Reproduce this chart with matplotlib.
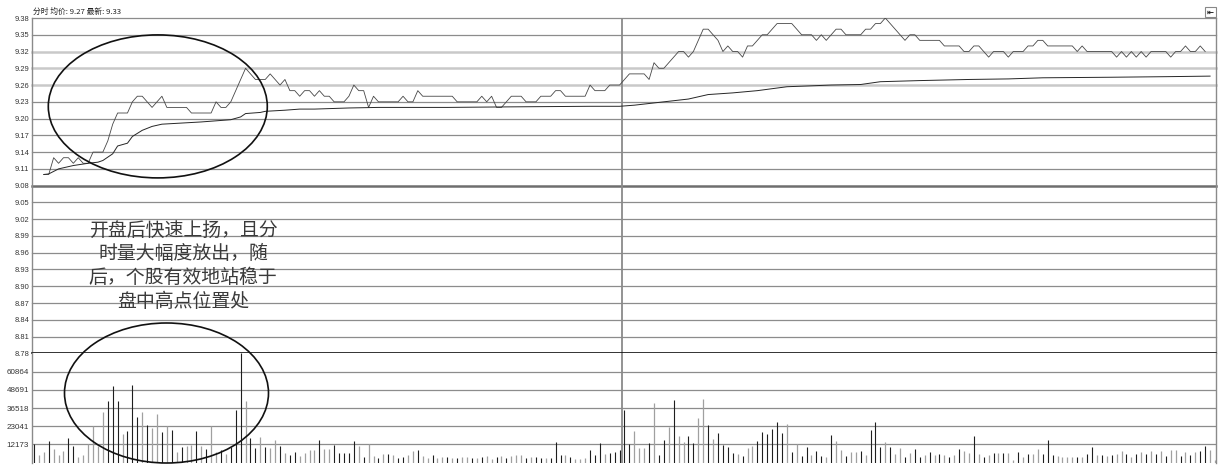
import numpy as np
import matplotlib
matplotlib.use("Agg")
import matplotlib.pyplot as plt
from matplotlib.patches import Ellipse, Rectangle

# ---- data ----------------------------------------------------------------
nan = np.nan

# minute price (index 0 = 9:30, 240 = 15:00)
price = [
    nan, nan,
    9.10, 9.10, 9.13, 9.12, 9.13, 9.13, 9.12, 9.13, 9.12, 9.12,
    9.14, 9.14, 9.14, 9.16, 9.19, 9.21, 9.21, 9.21, 9.23, 9.24,
    9.24, 9.23, 9.22, 9.23, 9.24, 9.22, 9.22, 9.22, 9.22, 9.22,
    9.21, 9.21, 9.21, 9.21, 9.21, 9.23, 9.22, 9.22, 9.23, 9.25,
    9.27, 9.29, 9.28, 9.27, 9.27, 9.27, 9.28, 9.27, 9.26, 9.27,
    9.25, 9.25, 9.24, 9.25, 9.25, 9.24, 9.25, 9.24, 9.24, 9.23,
    9.23, 9.23, 9.24, 9.26, 9.25, 9.25, 9.22, 9.24, 9.23, 9.23,
    9.23, 9.23, 9.23, 9.24, 9.23, 9.23, 9.25, 9.24, 9.24, 9.24,
    9.24, 9.24, 9.24, 9.24, 9.23, 9.23, 9.23, 9.23, 9.23, 9.24,
    9.23, 9.24, 9.22, 9.22, 9.23, 9.24, 9.24, 9.24, 9.23, 9.23,
    9.23, 9.24, 9.24, 9.24, 9.25, 9.25, 9.24, 9.24, 9.24, 9.24,
    9.24, 9.26, 9.25, 9.25, 9.25, 9.26, 9.26, 9.26, 9.27, 9.28,
    9.28, 9.28, 9.28, 9.27, 9.30, 9.29, 9.29, 9.30, 9.31, 9.32,
    9.32, 9.31, 9.32, 9.34, 9.36, 9.36, 9.35, 9.34, 9.32, 9.33,
    9.32, 9.32, 9.31, 9.33, 9.33, 9.34, 9.35, 9.35, 9.36, 9.37,
    9.37, 9.37, 9.37, 9.36, 9.35, 9.35, 9.35, 9.34, 9.35, 9.34,
    9.35, 9.36, 9.36, 9.35, 9.35, 9.35, 9.35, 9.36, 9.36, 9.37,
    9.37, 9.38, 9.37, 9.36, 9.35, 9.34, 9.35, 9.35, 9.34, 9.34,
    9.34, 9.34, 9.34, 9.33, 9.33, 9.33, 9.33, 9.32, 9.32, 9.33,
    9.33, 9.32, 9.31, 9.32, 9.32, 9.32, 9.31, 9.32, 9.32, 9.32,
    9.33, 9.33, 9.34, 9.34, 9.33, 9.33, 9.33, 9.33, 9.33, 9.33,
    9.32, 9.33, 9.32, 9.32, 9.32, 9.32, 9.32, 9.32, 9.31, 9.32,
    9.31, 9.32, 9.31, 9.32, 9.31, 9.32, 9.32, 9.32, 9.32, 9.31,
    9.32, 9.32, 9.33, 9.32, 9.32, 9.33, 9.32, nan, nan,
]

# average price line, read at its bends
avg_idx = [2, 3, 5, 8, 11, 13, 14, 16, 17, 19, 20, 22, 24, 26, 30, 34, 37,
           40, 42, 43, 46, 47, 51, 54, 57, 64, 70, 84, 97, 113, 119, 122,
           128, 133, 137, 142, 147, 153, 162, 168, 172, 180, 190, 198, 205,
           219, 230, 239]
avg_val = [9.100, 9.101, 9.110, 9.116, 9.120, 9.122, 9.125, 9.137, 9.151,
           9.156, 9.168, 9.179, 9.186, 9.190, 9.192, 9.194, 9.196, 9.198,
           9.203, 9.209, 9.211, 9.213, 9.215, 9.217, 9.217, 9.219, 9.220,
           9.220, 9.221, 9.222, 9.222, 9.224, 9.230, 9.235, 9.243, 9.246,
           9.250, 9.257, 9.260, 9.261, 9.266, 9.268, 9.270, 9.271, 9.273,
           9.274, 9.275, 9.276]

volume = [
    12500, 5200, 6900, 14500, 9200, 5200, 7800, 16300, 11200, 3600,
    5200, 12500, 24500, 11000, 33700, 41500, 51300, 41500, 19000, 21400,
    51800, 30800, 34100, 25200, 23000, 32400, 20300, 24500, 21900, 7400,
    10700, 11200, 11800, 21200, 11200, 9200, 24500, 6900, 8500, 5800,
    10700, 35300, 73000, 41300, 16300, 10000, 17400, 10700, 10000, 15200,
    11200, 6700, 5200, 6900, 4700, 6300, 8500, 8500, 15200, 9200,
    9200, 11800, 6700, 6700, 6300, 14500, 11200, 4000, 12500, 4500,
    2900, 5800, 5600, 5200, 3400, 4000, 5200, 8000, 8500, 4500,
    2900, 5200, 2900, 3600, 4000, 2900, 2900, 3600, 4000, 3400,
    3400, 4000, 4500, 2300, 4000, 4500, 3400, 4700, 5200, 5200,
    2900, 3600, 3600, 2900, 2900, 2900, 14100, 5200, 5200, 4000,
    2300, 2300, 2900, 8500, 5200, 13000, 5800, 6300, 7400, 8500,
    35300, 12500, 21400, 9600, 9600, 13000, 40200, 5200, 15200, 23700,
    42000, 17900, 14100, 17900, 13000, 29700, 42400, 25200, 15600, 19700,
    11800, 10300, 6300, 5800, 4700, 10100, 11200, 14500, 20300, 19000,
    22300, 27000, 19700, 25700, 7400, 12500, 4700, 10700, 5200, 8100,
    4700, 4000, 18500, 14700, 8500, 4700, 6900, 6900, 7800, 5200,
    21900, 27500, 10700, 13600, 10300, 5800, 9800, 4000, 6200, 9100,
    3600, 5100, 6900, 5100, 5600, 5100, 3600, 5100, 8900, 7800,
    6200, 17800, 5600, 4000, 5100, 6200, 6200, 6200, 6200, 1500,
    7400, 3600, 5600, 5600, 9100, 5600, 15200, 5100, 4700, 3600,
    3600, 3600, 4000, 4000, 5600, 10300, 5100, 5100, 4700, 5100,
    5600, 7800, 5600, 4000, 5600, 7400, 5600, 7800, 5600, 7800,
    4700, 8500, 8500, 4700, 6900, 5100, 7400, 7800, 11200, 8500,
    1800,
]

# d = dark bar, g = grey bar
bar_kind = (
    "dggdgggddg" "gggggdddgd" "ddgdggdgdg" "dggdgdggdg"
    "dddgddgdgg" "dgddggggdg" "gdddddgdgg" "dgdgddggdg"
    "gdggdgdggd" "gdggdgdggg" "dgddgdddgd" "gggdddgddd"
    "ddgggdgddg" "dggddggdgd" "dddgdggddd" "dddgdgddgd"
    "dgdggdggdg" "dddgdggdgd" "dgdgdgdgdg" "gdgdgdgdg" "g"
    "dgdggdddgg" "ggdgddgdgd" "ggdgdgdgdg" "dggdgdgddg" "g"
)

price_ticks = [9.38, 9.35, 9.32, 9.29, 9.26, 9.23, 9.20, 9.17, 9.14, 9.11,
               9.08, 9.05, 9.02, 8.99, 8.96, 8.93, 8.90, 8.87, 8.84, 8.81,
               8.78]
vol_step = 12173
vol_labels = ["12173", "23041", "36518", "48691", "60864"]

header = "分时 均价: 9.27 最新: 9.33"
note_lines = ["开盘后快速上扬，且分", "时量大幅度放出，随",
              "后，个股有效地站稳于", "盘中高点位置处"]

# ---- drawing --------------------------------------------------------------
W, H = 1223, 469
fig = plt.figure(figsize=(W / 100, H / 100), dpi=100)
fig.patch.set_facecolor("white")

left, right = 32 / W, 1216 / W
top_p, mid_y, bot_v = 18, 353.3, 462.7
ax_p = fig.add_axes([left, 1 - mid_y / H, right - left, (mid_y - top_p) / H])
ax_v = fig.add_axes([left, 1 - bot_v / H, right - left, (bot_v - mid_y) / H],
                    sharex=ax_p)

n = len(volume)
x = np.arange(n)
price = np.array(price, dtype=float)
volume = np.array(volume)
grid_c = "#8c8c8c"
light_c = "#c9c9c9"
tick_font = dict(family="Liberation Sans", color="#333333")

for ax in (ax_p, ax_v):
    ax.set_facecolor("white")
    for s in ("top", "bottom"):
        ax.spines[s].set_visible(False)
    for s in ("left", "right"):
        ax.spines[s].set_color("#8a8a8a")
        ax.spines[s].set_linewidth(1.0)
    ax.tick_params(axis="both", length=0, pad=2)
    ax.set_xticks([])
    ax.set_xlim(-0.4, 240.2)

# price panel
ax_p.set_ylim(8.78, 9.38)
for p in price_ticks:
    if p in (9.32, 9.29, 9.26):
        ax_p.axhline(p, color=light_c, lw=1.8, zorder=1, clip_on=False)
    elif abs(p - 9.08) < 1e-9:
        ax_p.axhline(p, color="#6e6e6e", lw=1.8, zorder=1, clip_on=False)
    elif abs(p - 8.78) < 1e-9:
        ax_p.axhline(p, color="#111111", lw=1.2, zorder=4, clip_on=False)
    else:
        ax_p.axhline(p, color=grid_c, lw=0.9, zorder=1, clip_on=False)
ax_p.set_yticks(price_ticks)
ax_p.set_yticklabels([f"{p:.2f}" for p in price_ticks], fontsize=5.4,
                     **tick_font)
ax_p.plot(x, price, color="#474747", lw=0.6, zorder=3)
ax_p.plot(avg_idx, avg_val, color="#262626", lw=0.7, zorder=3)
ax_p.axvline(119.5, color="#8a8a8a", lw=1.3, zorder=2)

# volume panel
ax_v.set_ylim(0, 73100)
vol_grid = [vol_step * k for k in range(1, 6)]
for v in vol_grid:
    ax_v.axhline(v, color=grid_c, lw=0.9, zorder=1)
ax_v.set_yticks(vol_grid)
ax_v.set_yticklabels(vol_labels, fontsize=5.8, **tick_font)
kind = np.array(list(bar_kind[:n]))
dark = kind == "d"
ax_v.vlines(x[dark], 0, volume[dark], color="#1e1e1e", lw=0.8, zorder=3)
ax_v.vlines(x[~dark], 0, volume[~dark], color="#a0a0a0", lw=0.9, zorder=3)
ax_v.axvline(119.5, color="#8a8a8a", lw=1.3, zorder=2)

# header and corner button
cjk = ["Noto Sans CJK SC", "DejaVu Sans"]
fig.text(33 / W, 1 - 12 / H, header, family=cjk, fontsize=5.6,
         color="#222222", ha="left", va="center")
fig.patches.append(Rectangle((1205 / W, 1 - 17.5 / H), 11 / W, 10.5 / H,
                             transform=fig.transFigure, fill=False,
                             edgecolor="#888888", lw=0.8))
fig.text(1210.5 / W, 1 - 12.3 / H, "⇤", family="DejaVu Sans", fontsize=6,
         color="#222222", ha="center", va="center", weight="bold")

# annotation text
for k, line in enumerate(note_lines):
    fig.text(183 / W, 1 - (230 + 23.7 * k) / H, line, family=cjk,
             fontsize=13.6, color="#3a3a3a", ha="center", va="center")

# hand-drawn ellipses
for (cx, cy, w, h) in [(157.8, 106.4, 219, 143), (166.5, 393, 204, 140)]:
    fig.patches.append(Ellipse((cx / W, 1 - cy / H), w / W, h / H,
                               transform=fig.transFigure, fill=False,
                               edgecolor="#111111", lw=1.2, zorder=10))

fig.savefig("out.png", dpi=100, facecolor="white")
